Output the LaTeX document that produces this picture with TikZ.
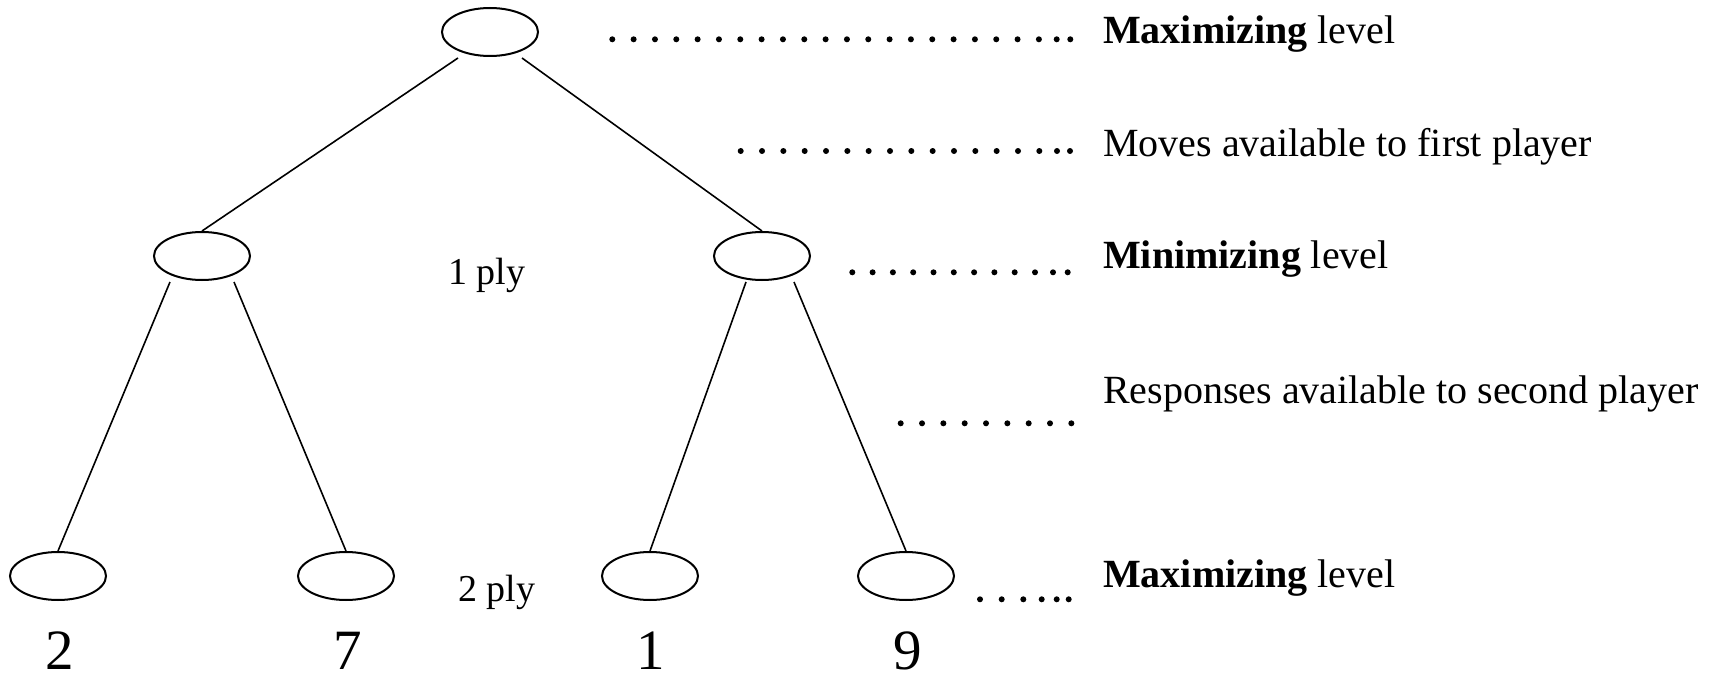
\documentclass[tikz,border=0pt]{standalone}
\usepackage{fontspec}
\setmainfont{Liberation Serif}
\usetikzlibrary{shapes.geometric}

\begin{document}
\begin{tikzpicture}[x={(1pt,0)}, y={(0,-1pt)},
  state/.style={draw, ellipse, line width=2pt, inner sep=0pt,
                minimum width=96pt, minimum height=48pt},
  branch/.style={line width=1.6pt},
  label/.style={anchor=base west, inner sep=0pt,
                font=\fontsize{40}{48}\selectfont},
  ply/.style={anchor=base west, inner sep=0pt,
              font=\fontsize{38}{46}\selectfont},
  score/.style={anchor=base, inner sep=0pt,
                font=\fontsize{57}{68}\selectfont}]
  \useasboundingbox (0,0) rectangle (1709,677);

  % tree nodes
  \node[state] (root) at (490,32) {};
  \node[state] (ml)   at (202,256) {};
  \node[state] (mr)   at (762,256) {};
  \node[state] (b1)   at (58,576) {};
  \node[state] (b2)   at (346,576) {};
  \node[state] (b3)   at (650,576) {};
  \node[state] (b4)   at (906,576) {};

  % branch start points just below the parent ellipses
  \coordinate (rootL) at ([xshift=-32pt,yshift=-1pt]root.south);
  \coordinate (rootR) at ([xshift=32pt,yshift=-1pt]root.south);
  \coordinate (mlL)   at ([xshift=-32pt,yshift=-1pt]ml.south);
  \coordinate (mlR)   at ([xshift=32pt,yshift=-1pt]ml.south);
  \coordinate (mrL)   at ([xshift=-16pt,yshift=-1pt]mr.south);
  \coordinate (mrR)   at ([xshift=32pt,yshift=-1pt]mr.south);

  \draw[branch] (rootL) -- (ml.north);
  \draw[branch] (rootR) -- (mr.north);
  \draw[branch] (mlL) -- (b1.north);
  \draw[branch] (mlR) -- (b2.north);
  \draw[branch] (mrL) -- (b3.north);
  \draw[branch] (mrR) -- (b4.north);

  % leaf values
  \node[score] (v1) at (60,669) {2};
  \node[score] (v2) at (348,669) {7};
  \node[score] (v3) at (651,669) {1};
  \node[score] (v4) at (908,669) {9};

  % ply markers
  \node[ply] (ply1) at (448,284) {1 ply};
  \node[ply] (ply2) at (458,601) {2 ply};

  % level descriptions
  \node[label] (t1) at (1103,44)  {\textbf{Maximizing} level};
  \node[label] (t2) at (1103,156) {Moves available to first player};
  \node[label] (t3) at (1103,268) {\textbf{Minimizing} level};
  \node[label] (t4) at (1103,403) {Responses available to second player};
  \node[label] (t5) at (1103,587) {\textbf{Maximizing} level};

  % dotted leaders
  \foreach \i in {0,...,20} \fill (612.3+21.33*\i,39.3) circle (3pt);
  \fill (1056.7,39.3) circle (3pt);
  \fill (1070.3,39.3) circle (3pt);

  \foreach \i in {0,...,14} \fill (740.7+21.33*\i,151) circle (3pt);
  \fill (1057,151) circle (3pt);
  \fill (1070,151) circle (3pt);

  \foreach \i in {0,...,9} \fill (852.3+20.3*\i,272.3) circle (3pt);
  \fill (1053,272.3) circle (3pt);
  \fill (1067.7,272.3) circle (3pt);

  \foreach \i in {0,...,8} \fill (900.7+21.33*\i,423.3) circle (3pt);

  \foreach \x in {980,1001.7,1023.3,1041.7,1056.7,1068.7} \fill (\x,599.3) circle (3pt);
\end{tikzpicture}
\end{document}
